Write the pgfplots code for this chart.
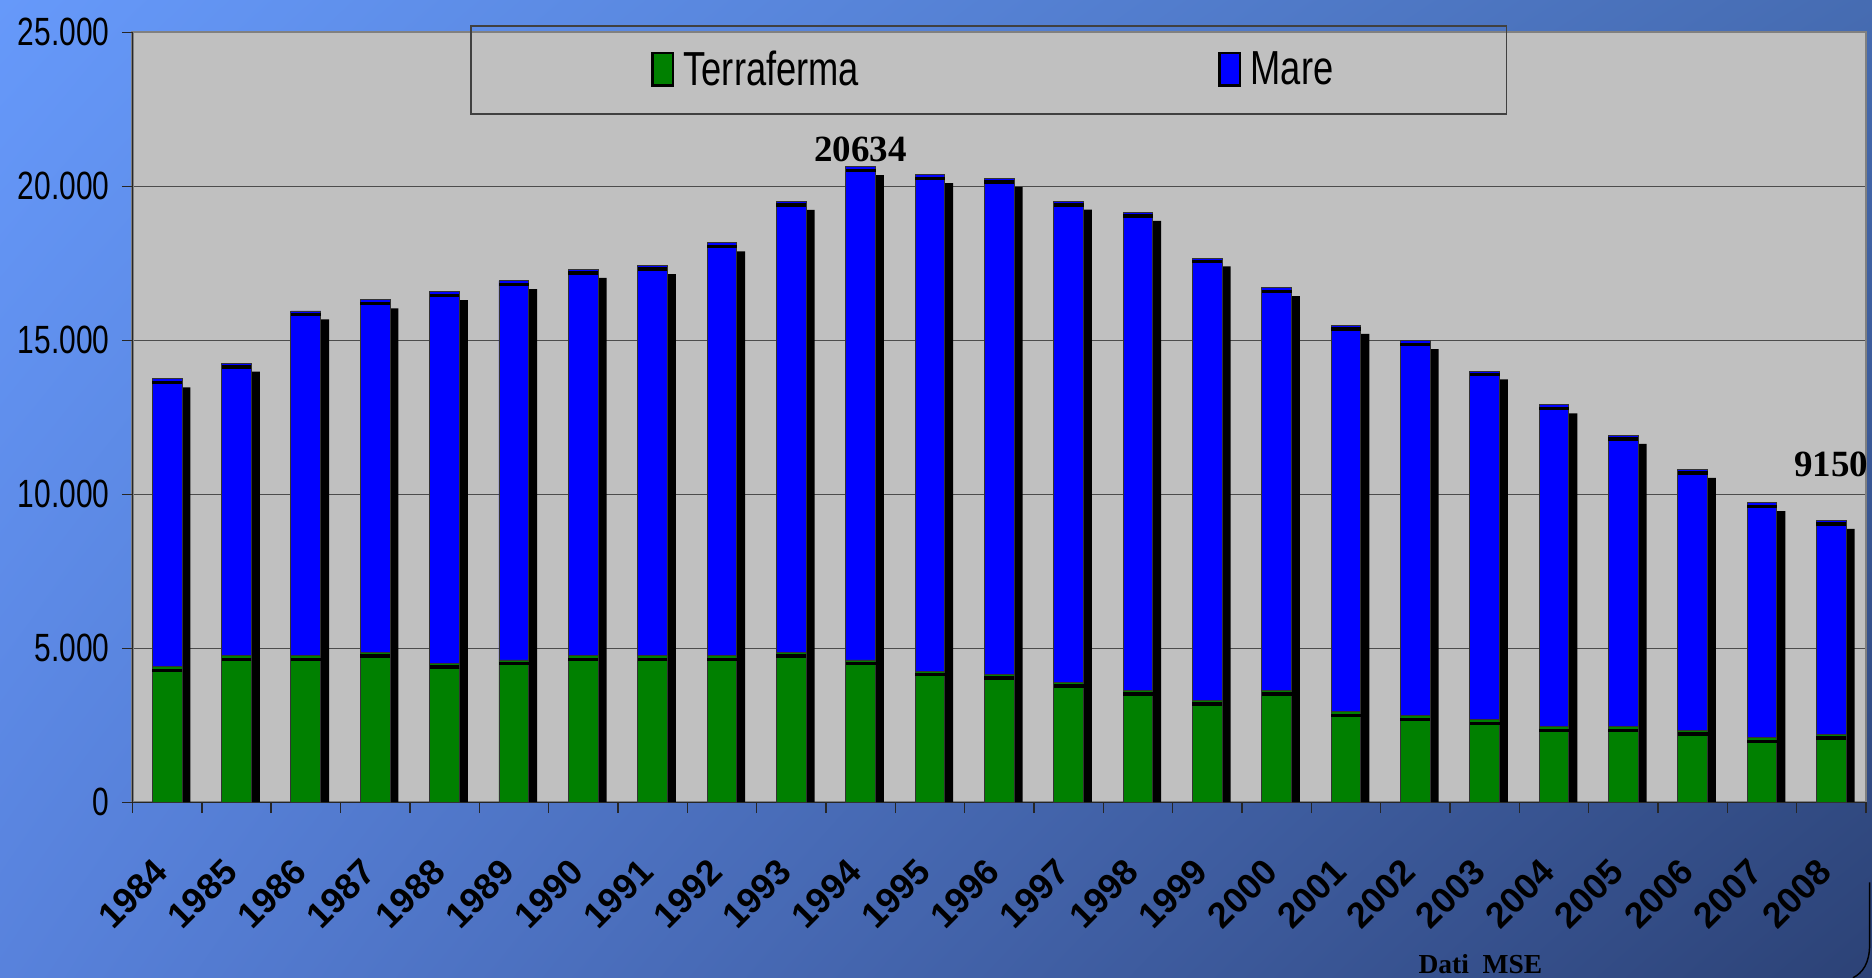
\documentclass[border=0pt]{standalone}
\usepackage{fontspec}
\setmainfont{Liberation Sans}
\newfontfamily\narrow{Liberation Sans}[FakeStretch=0.76]
\newfontfamily\tnr{Liberation Serif}
\usepackage{pgfplots}
\pgfplotsset{compat=1.18}
\usepackage{pgfplotstable}
\usetikzlibrary{shadings}

\definecolor{bgUL}{RGB}{102,153,250}
\definecolor{bgUR}{RGB}{70,108,178}
\definecolor{bgLL}{RGB}{88,130,220}
\definecolor{bgLR}{RGB}{44,66,118}
\definecolor{terra}{RGB}{0,128,0}
\definecolor{mare}{RGB}{0,0,255}
\definecolor{plotgray}{RGB}{192,192,192}

\pgfplotstableread{
idx year terra mare total
0 1984 4400 9345 13745
1 1985 4750 9500 14250
2 1986 4750 11200 15950
3 1987 4860 11450 16310
4 1988 4510 12060 16570
5 1989 4620 12310 16930
6 1990 4750 12550 17300
7 1991 4750 12670 17420
8 1992 4750 13410 18160
9 1993 4860 14640 19500
10 1994 4620 16014 20634
11 1995 4260 16110 20370
12 1996 4150 16100 20250
13 1997 3890 15620 19510
14 1998 3640 15510 19150
15 1999 3300 14370 17670
16 2000 3640 13060 16700
17 2001 2940 12540 15480
18 2002 2810 12170 14980
19 2003 2680 11320 14000
20 2004 2450 10450 12900
21 2005 2450 9460 11910
22 2006 2330 8470 10800
23 2007 2090 7630 9720
24 2008 2200 6950 9150
}\datatable

\pgfplotsset{chartgeom/.style={
  at={(55.5pt,73.5pt)}, anchor=south west,
  width=726pt, height=322.5pt, scale only axis,
  xmin=-0.5, xmax=24.5, ymin=0, ymax=25000,
  scaled y ticks=false}}

\begin{document}
\begin{tikzpicture}
\useasboundingbox (0,0) rectangle (784pt,409.5pt);
\shade[upper left=bgUL, upper right=bgUR, lower left=bgLL, lower right=bgLR] (0,0) rectangle (784pt,409.5pt);

% background axis: plot area, grid, shadows
\begin{axis}[
  chartgeom,
  axis background/.style={fill=plotgray},
  ytick={5000,10000,15000,20000}, yticklabels={},
  xtick=\empty,
  ymajorgrids, grid style={black!70, line width=0.5pt},
  major tick length=0pt,
  axis line style={draw=black!50, line width=1pt},
  ybar, bar width=0.43,
]
\addplot[fill=black, draw=none, bar shift=3.5pt, transform canvas={yshift=-3.5pt}] table[x=idx, y=total]{\datatable};
\end{axis}

% bars axis
\begin{axis}[
  chartgeom,
  ybar stacked, bar width=0.43,
  axis x line*=bottom, axis y line*=left,
  axis line style={-, black!85, line width=0.6pt},
  tick align=outside,
  xtick={0,...,24},
  xticklabels={1984,1985,1986,1987,1988,1989,1990,1991,1992,1993,1994,1995,1996,1997,1998,1999,2000,2001,2002,2003,2004,2005,2006,2007,2008},
  major x tick style={draw=none},
  minor xtick={-0.5,0.5,...,24.5},
  minor tick length=4.5pt,
  major tick length=4.5pt,
  tick style={black!85, line width=0.6pt},
  ytick={0,5000,10000,15000,20000,25000},
  yticklabels={0,5.000,10.000,15.000,20.000,25.000},
  xticklabel style={font=\bfseries\fontsize{15}{16}\selectfont, inner sep=0pt, xshift=-2.4pt, yshift=-22pt, rotate=45, anchor=east},
  yticklabel style={font=\narrow\fontsize{16.5}{18}\selectfont, inner sep=0pt, anchor=east, xshift=-5pt},
  legend columns=2,
  legend style={at={(0.1949,1.0093)}, anchor=north west, draw=black!75, fill=none, line width=0.6pt,
    inner xsep=72.5pt, inner ysep=10.5pt,
    font=\narrow\fontsize{20}{21}\selectfont,
    nodes={inner sep=0pt},
    /tikz/every odd column/.append style={column sep=4pt},
    /tikz/every even column/.append style={column sep=150.5pt}},
  clip mode=individual,
]
\addplot[fill=terra, draw=black!80, line width=0.4pt,
  legend image code/.code={\path[draw=none, fill=none] (-3.5pt,0pt) -- (0pt,0pt);\draw[fill=terra, draw=black, line width=1pt] (0pt,-6.5pt) rectangle (8.5pt,7pt);}]
  table[x=idx, y=terra]{\datatable};
\addlegendentry{Terraferma}
\addplot[fill=mare, draw=black!80, line width=0.4pt,
  legend image code/.code={\draw[fill=mare, draw=black, line width=1pt] (0pt,-6.5pt) rectangle (8.5pt,7pt);}]
  table[x=idx, y=mare]{\datatable};
\addlegendentry{Mare}
\node[font=\tnr\bfseries\fontsize{15.5}{16}\selectfont, anchor=base, yshift=2.3pt] at (axis cs:10,20634) {20634};
\node[font=\tnr\bfseries\fontsize{15.5}{16}\selectfont, anchor=base, yshift=18.5pt] at (axis cs:24,9150) {9150};
\end{axis}

% black bands at the top of each segment
\begin{axis}[chartgeom, hide axis, clip=false]
\addplot[only marks, mark=-, mark size=6.24pt, mark options={line width=1.5pt, draw=black}, transform canvas={yshift=-0.75pt}] table[x=idx, y=terra]{\datatable};
\addplot[only marks, mark=-, mark size=6.24pt, mark options={line width=1.5pt, draw=black}, transform canvas={yshift=-0.75pt}] table[x=idx, y=total]{\datatable};
\end{axis}

\node[font=\tnr\bfseries\fontsize{11.5}{12}\selectfont, anchor=base] at (620pt,2pt) {Dati~ MSE};
\draw[black, line width=0.6pt] (783pt,40pt) -- (783pt,14pt) .. controls (783pt,6pt) and (780pt,2pt) .. (776pt,0pt);
\end{tikzpicture}
\end{document}
